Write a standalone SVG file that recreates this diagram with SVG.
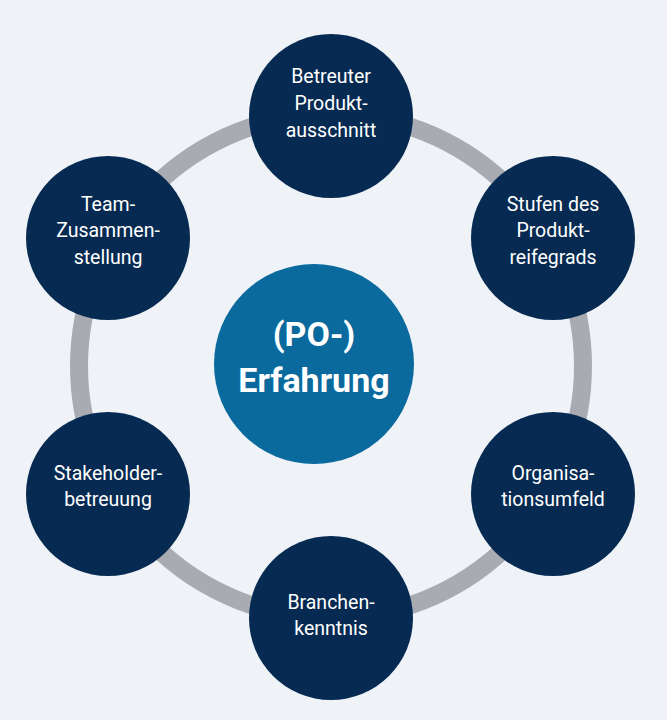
<svg xmlns="http://www.w3.org/2000/svg" width="667" height="720" viewBox="0 0 667 720">
<style>
.n{fill:#062a51}
.t{fill:#fff;font-family:Roboto,"Liberation Sans",sans-serif;font-size:19.5px;text-anchor:middle}
.c{fill:#fff;font-family:Roboto,"Liberation Sans",sans-serif;font-size:34px;font-weight:bold;text-anchor:middle}
</style>
<rect width="667" height="720" fill="#eff3f8"/>
<g id="connectors"><circle cx="331" cy="366" r="252" fill="none" stroke="#a8abb2" stroke-width="18"/></g>
<g id="center"><circle cx="314" cy="364" r="100" fill="#0a6a9e"/><text class="c" x="314" y="346">(PO-)</text><text class="c" x="314" y="392">Erfahrung</text></g>
<g id="n1"><circle class="n" cx="331" cy="116" r="82"/><text class="t" x="331" y="83">Betreuter</text><text class="t" x="331" y="110">Produkt-</text><text class="t" x="331" y="137">ausschnitt</text></g>
<g id="n2"><circle class="n" cx="553" cy="238" r="82"/><text class="t" x="553" y="211">Stufen des</text><text class="t" x="553" y="237">Produkt-</text><text class="t" x="553" y="264">reifegrads</text></g>
<g id="n3"><circle class="n" cx="553" cy="494" r="82"/><text class="t" x="553" y="480">Organisa-</text><text class="t" x="553" y="506">tionsumfeld</text></g>
<g id="n4"><circle class="n" cx="331" cy="618" r="82"/><text class="t" x="331" y="609">Branchen-</text><text class="t" x="331" y="635">kenntnis</text></g>
<g id="n5"><circle class="n" cx="108" cy="494" r="82"/><text class="t" x="108" y="480">Stakeholder-</text><text class="t" x="108" y="506">betreuung</text></g>
<g id="n6"><circle class="n" cx="108" cy="238" r="82"/><text class="t" x="108" y="211">Team-</text><text class="t" x="108" y="237">Zusammen-</text><text class="t" x="108" y="264">stellung</text></g>
</svg>
